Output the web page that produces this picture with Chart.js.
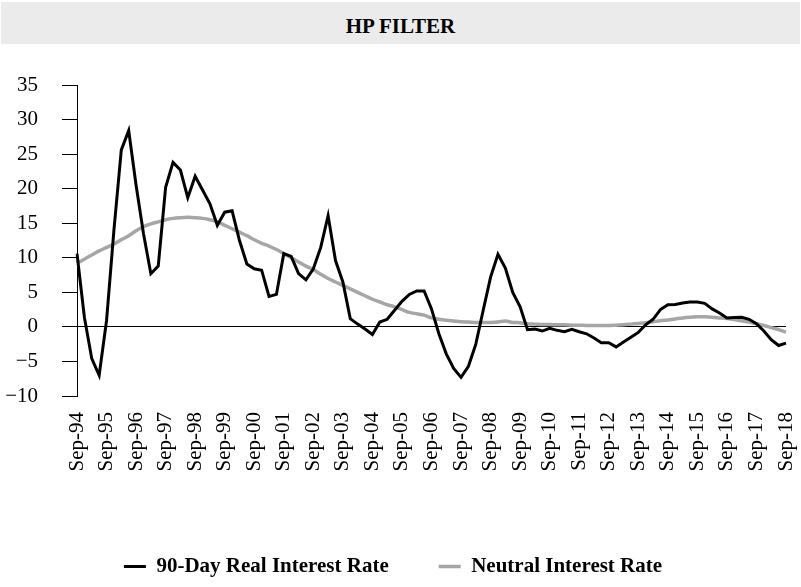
<!DOCTYPE html>
<html>
<head>
<meta charset="utf-8">
<script src="https://cdn.jsdelivr.net/npm/chart.js@4.4.0/dist/chart.umd.min.js"></script>
<style>
  body { margin: 0; background: #fff; width: 801px; height: 587px; overflow: hidden; }
  #title {
    position: absolute; left: 1px; top: 2px; width: 799px; height: 42px;
    background: #ebebeb; text-align: center; color: #000;
    font: bold 21px 'Liberation Serif', 'DejaVu Serif', serif;
    line-height: 48px;
  }
  #wrap { position: absolute; left: 0; top: 44px; width: 801px; height: 543px; }
</style>
</head>
<body>
<div id="title">HP FILTER</div>
<div id="wrap"><canvas id="hpChart"></canvas></div>
<script>
// quarterly, Sep-94 .. Sep-18
const years = ['94','95','96','97','98','99','00','01','02','03','04','05','06',
               '07','08','09','10','11','12','13','14','15','16','17','18'];
const yTicks = [-10, -5, 0, 5, 10, 15, 20, 25, 30, 35];

const realRate = [
  10.6, 1.4, -4.6, -7.0, 0.9, 14.0, 25.6, 28.4, 20.5, 13.5,
  7.7, 8.8, 20.2, 23.8, 22.7, 18.7, 21.8, 19.8, 17.8, 14.7,
  16.6, 16.8, 12.5, 9.1, 8.4, 8.2, 4.4, 4.7, 10.6, 10.2,
  7.7, 6.8, 8.4, 11.5, 16.1, 9.6, 6.5, 1.2, 0.4, -0.3,
  -1.1, 0.7, 1.1, 2.4, 3.7, 4.7, 5.2, 5.2, 2.6, -1.0,
  -3.9, -6.0, -7.3, -5.7, -2.5, 2.4, 7.2, 10.5, 8.5, 5.0,
  2.9, -0.4, -0.3, -0.6, -0.2, -0.5, -0.7, -0.35, -0.7, -1.0,
  -1.6, -2.3, -2.3, -2.9, -2.2, -1.5, -0.8, 0.3, 1.1, 2.5,
  3.2, 3.25, 3.45, 3.6, 3.6, 3.4, 2.6, 2.0, 1.3, 1.35,
  1.4, 1.1, 0.45, -0.6, -1.85, -2.7, -2.35
];
const neutralRate = [
  9.2, 9.8, 10.4, 11.0, 11.5, 12.0, 12.6, 13.2, 13.9, 14.5,
  14.9, 15.2, 15.5, 15.7, 15.8, 15.85, 15.8, 15.7, 15.5, 15.2,
  14.7, 14.2, 13.7, 13.2, 12.6, 12.1, 11.7, 11.2, 10.6, 10.0,
  9.4, 8.8, 8.3, 7.6, 7.0, 6.5, 6.0, 5.5, 5.0, 4.5,
  4.0, 3.6, 3.2, 2.9, 2.5, 2.1, 1.9, 1.7, 1.3, 1.1,
  0.95, 0.85, 0.75, 0.7, 0.65, 0.65, 0.65, 0.7, 0.85, 0.65,
  0.6, 0.45, 0.4, 0.35, 0.35, 0.3, 0.3, 0.25, 0.25, 0.2,
  0.2, 0.2, 0.2, 0.25, 0.3, 0.4, 0.5, 0.6, 0.75, 0.9,
  1.0, 1.15, 1.3, 1.4, 1.45, 1.45, 1.4, 1.3, 1.2, 1.05,
  0.9, 0.7, 0.45, 0.2, -0.1, -0.4, -0.75
];

// build quarter labels from the year list
const labels = [];
for (let i = 0; i < years.length; i++) {
  labels.push('Sep-' + years[i]);
  if (i < years.length - 1) {
    labels.push('Dec-' + years[i]);
    labels.push('Mar-' + years[i + 1]);
    labels.push('Jun-' + years[i + 1]);
  }
}

const serif = "'Liberation Serif', 'DejaVu Serif', serif";

new Chart(document.getElementById('hpChart'), {
  type: 'line',
  data: {
    labels: labels,
    datasets: [{
      label: '90-Day Real Interest Rate',
      data: realRate,
      borderColor: '#000',
      backgroundColor: '#000',
      borderWidth: 3,
      pointRadius: 0,
      pointStyle: 'line',
      tension: 0
    }, {
      label: 'Neutral Interest Rate',
      data: neutralRate,
      borderColor: '#a6a6a6',
      backgroundColor: '#a6a6a6',
      borderWidth: 3.5,
      pointRadius: 0,
      pointStyle: 'line',
      tension: 0.3
    }]
  },
  options: {
    responsive: true,
    maintainAspectRatio: false,
    animation: false,
    layout: { padding: { top: 41, left: 0, right: 15, bottom: 0 } },
    plugins: {
      tooltip: { enabled: false },
      legend: {
        position: 'bottom',
        labels: {
          usePointStyle: true,
          pointStyleWidth: 22,
          boxHeight: 4,
          padding: 50,
          color: '#000',
          font: { family: serif, size: 21, weight: 'bold' }
        }
      }
    },
    scales: {
      x: {
        grid: { display: false },
        border: { display: false },
        afterFit: (scale) => {
          scale.height = 110;
          scale.paddingLeft = 0;
          scale.paddingRight = 0;
        },
        ticks: {
          autoSkip: false,
          minRotation: 90,
          maxRotation: 90,
          padding: 8,
          color: '#000',
          font: { family: serif, size: 21 },
          callback: function (val) {
            const l = this.getLabelForValue(val);
            return l.startsWith('Sep') ? l : '';
          }
        }
      },
      y: {
        min: yTicks[0],
        max: yTicks[yTicks.length - 1],
        afterBuildTicks: (scale) => { scale.ticks = yTicks.map(v => ({ value: v })); },
        afterFit: (scale) => { scale.width = 77; },
        border: { display: true, color: '#000', width: 1 },
        grid: {
          color: (ctx) => (ctx.tick && ctx.tick.value === 0 ? '#000' : 'rgba(0,0,0,0)'),
          tickColor: '#000',
          tickLength: 15,
          lineWidth: 1
        },
        ticks: {
          padding: 24,
          color: '#000',
          font: { family: serif, size: 21 },
          callback: (v) => String(v).replace('-', '\u2212')
        }
      }
    }
  }
});
</script>
</body>
</html>
